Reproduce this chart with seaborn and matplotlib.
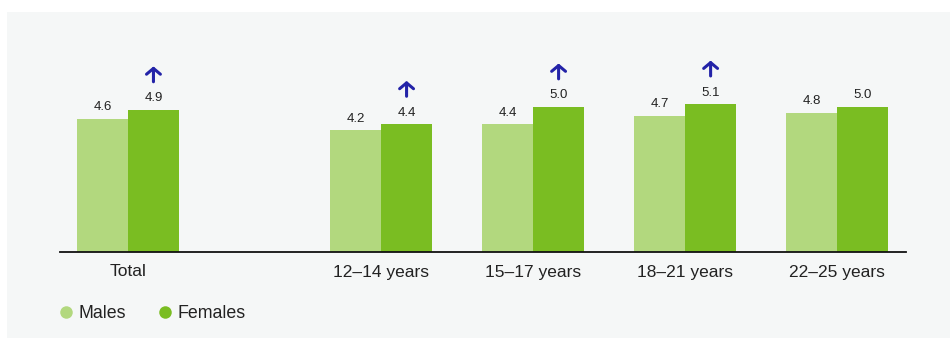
import matplotlib
matplotlib.use("Agg")
import matplotlib.pyplot as plt
from matplotlib.patches import Rectangle
from matplotlib.lines import Line2D
import seaborn as sns
import pandas as pd

# ---- data ----
categories = ["Total", "12–14 years", "15–17 years", "18–21 years", "22–25 years"]
males = [4.6, 4.2, 4.4, 4.7, 4.8]
females = [4.9, 4.4, 5.0, 5.1, 5.0]
female_increase = [True, True, True, True, False]
series_names = ["Males", "Females"]

# ---- layout (group positions on the x axis) ----
positions = [0.0, 1.665, 2.665, 3.665, 4.665]

plt.rcParams["font.family"] = ["Liberation Sans", "DejaVu Sans"]
TEXT = "#222222"
C_M = "#b2d87e"
C_F = "#7abd22"
ARROW = "#2323a8"
PANEL = "#f5f7f7"

df = pd.DataFrame({
    "pos": positions * 2,
    "value": males + females,
    "sex": [series_names[0]] * len(males) + [series_names[1]] * len(females),
})

fig = plt.figure(figsize=(9.5, 3.38), dpi=100)
fig.patch.set_facecolor("white")
fig.add_artist(Rectangle((7 / 950, 0), 1 - 7 / 950, (338 - 12) / 338,
                         transform=fig.transFigure, facecolor=PANEL,
                         edgecolor="none", zorder=-10))

ax = fig.add_axes([60 / 950, 1 - 252 / 338, 846 / 950, 203 / 338])
ax.set_facecolor("none")

sns.barplot(data=df, x="pos", y="value", hue="sex", hue_order=series_names,
            palette=[C_M, C_F], native_scale=True, width=0.671, gap=0,
            errorbar=None, linewidth=0, saturation=1, ax=ax, legend=False)

ax.set_xlim(-0.447, 5.118)
ax.set_ylim(0, 7)
for s in ["top", "right", "left"]:
    ax.spines[s].set_visible(False)
ax.spines["bottom"].set_color("#111111")
ax.spines["bottom"].set_linewidth(1.3)
ax.set_yticks([])
ax.set_xticks(positions)
ax.set_xticklabels(categories, fontsize=12.5, color=TEXT)
ax.tick_params(axis="x", length=0, pad=9)
ax.set_xlabel("")
ax.set_ylabel("")

for cont in ax.containers:
    ax.bar_label(cont, fmt="%.1f", padding=4, fontsize=9.5, color=TEXT)

# arrows above female bars that increased
for p, v, inc in zip(positions, females, female_increase):
    if inc:
        xf = p + 0.671 / 4
        ax.annotate("", xy=(xf, v + 1.5), xytext=(xf, v + 0.97),
                    arrowprops=dict(arrowstyle="->,head_length=0.42,head_width=0.5",
                                    color=ARROW, lw=2.2, shrinkA=0, shrinkB=0),
                    annotation_clip=False)

handles = [Line2D([0], [0], marker="o", linestyle="none", markersize=9,
                  markerfacecolor=c, markeredgecolor="none") for c in (C_M, C_F)]
fig.legend(handles, series_names, loc="center left",
           bbox_to_anchor=(56.7 / 950, 1 - 314 / 338), frameon=False, ncol=2,
           fontsize=12.8, handlelength=1.0, handletextpad=0.23,
           columnspacing=1.67, borderpad=0, borderaxespad=0,
           labelcolor=TEXT)

fig.savefig("out.png", dpi=100, facecolor=fig.get_facecolor())
